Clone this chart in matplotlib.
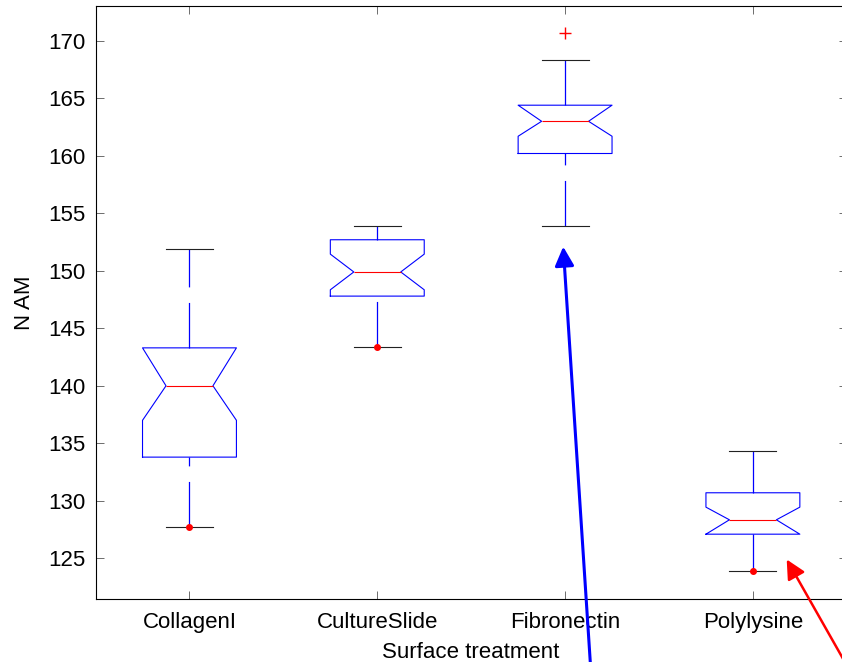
import matplotlib
matplotlib.use('Agg')
import matplotlib.pyplot as plt
import numpy as np

plt.rcParams['font.family'] = ['Liberation Sans', 'DejaVu Sans']
plt.rcParams['lines.scale_dashes'] = False

# box statistics
groups = ['CollagenI', 'CultureSlide', 'Fibronectin', 'Polylysine']
whislo = [127.7, 143.4, 153.9, 123.9]
q1 = [133.8, 147.8, 160.2, 127.1]
cilo = [137.0, 148.35, 161.7, 127.1]
med = [140.0, 149.9, 163.0, 128.35]
cihi = [143.3, 151.45, 164.4, 129.45]
q3 = [143.3, 152.7, 164.4, 130.7]
whishi = [151.9, 153.9, 168.3, 134.3]
outliers = [[], [], [170.7], []]
low_points = [127.7, 143.4, np.nan, 123.9]

# annotation arrows (tip -> tail, tail runs off the figure)
arrow_tip_x = [2.99, 4.18]
arrow_tip_y = [152.1, 124.9]
arrow_tail_x = [3.158, 4.663]
arrow_tail_y = [110.0, 111.0]
arrow_colors = ['blue', 'red']
arrow_widths = [2.2, 1.8]

stats = []
for i in range(len(groups)):
    stats.append(dict(label=groups[i], whislo=whislo[i], q1=q1[i], cilo=cilo[i],
                      med=med[i], cihi=cihi[i], q3=q3[i], whishi=whishi[i],
                      fliers=outliers[i]))

fig = plt.figure(figsize=(8.42, 6.62), dpi=100)
ax = fig.add_axes([0.1135, 0.0958, 0.8922, 0.8947])

pos = np.arange(1, len(groups) + 1)
art = ax.bxp(stats, positions=pos, widths=0.5, capwidths=0.25, shownotches=True,
             boxprops=dict(color='blue', lw=0.8),
             medianprops=dict(color='red', lw=0.8),
             whiskerprops=dict(color='blue', lw=0.9, linestyle=(0, (32.8, 11.2))),
             capprops=dict(color='#222222', lw=0.8),
             flierprops=dict(marker='+', markeredgecolor='red', markersize=8,
                             markeredgewidth=1.0, linestyle='none'))

# matlab draws the lower whisker starting from the cap
for w in art['whiskers']:
    w.set_color('blue')
for w in art['whiskers'][0::2]:
    w.set_ydata(w.get_ydata()[::-1])

ax.plot(pos, low_points, 'o', color='red', markersize=4, linestyle='none')

for i in range(len(arrow_tip_x)):
    ax.annotate('', xy=(arrow_tip_x[i], arrow_tip_y[i]),
                xytext=(arrow_tail_x[i], arrow_tail_y[i]),
                annotation_clip=False,
                arrowprops=dict(arrowstyle='-|>', color=arrow_colors[i],
                                lw=arrow_widths[i], mutation_scale=29,
                                shrinkA=0, shrinkB=0))

ax.set_xlim(0.5, 4.5)
ax.set_ylim(121.5, 173.0)
ax.set_yticks(np.arange(125, 171, 5))
ax.tick_params(direction='in', length=5.8, width=0.6, color='#555555',
               top=True, right=True, labelsize=16, pad=7)
ax.tick_params(axis='x', pad=10)
for s in ax.spines.values():
    s.set_linewidth(0.8)

ax.set_xlabel('Surface treatment', fontsize=16, labelpad=6)
ax.set_ylabel('N AM', fontsize=16, labelpad=10)

fig.savefig('out.png', dpi=100)
